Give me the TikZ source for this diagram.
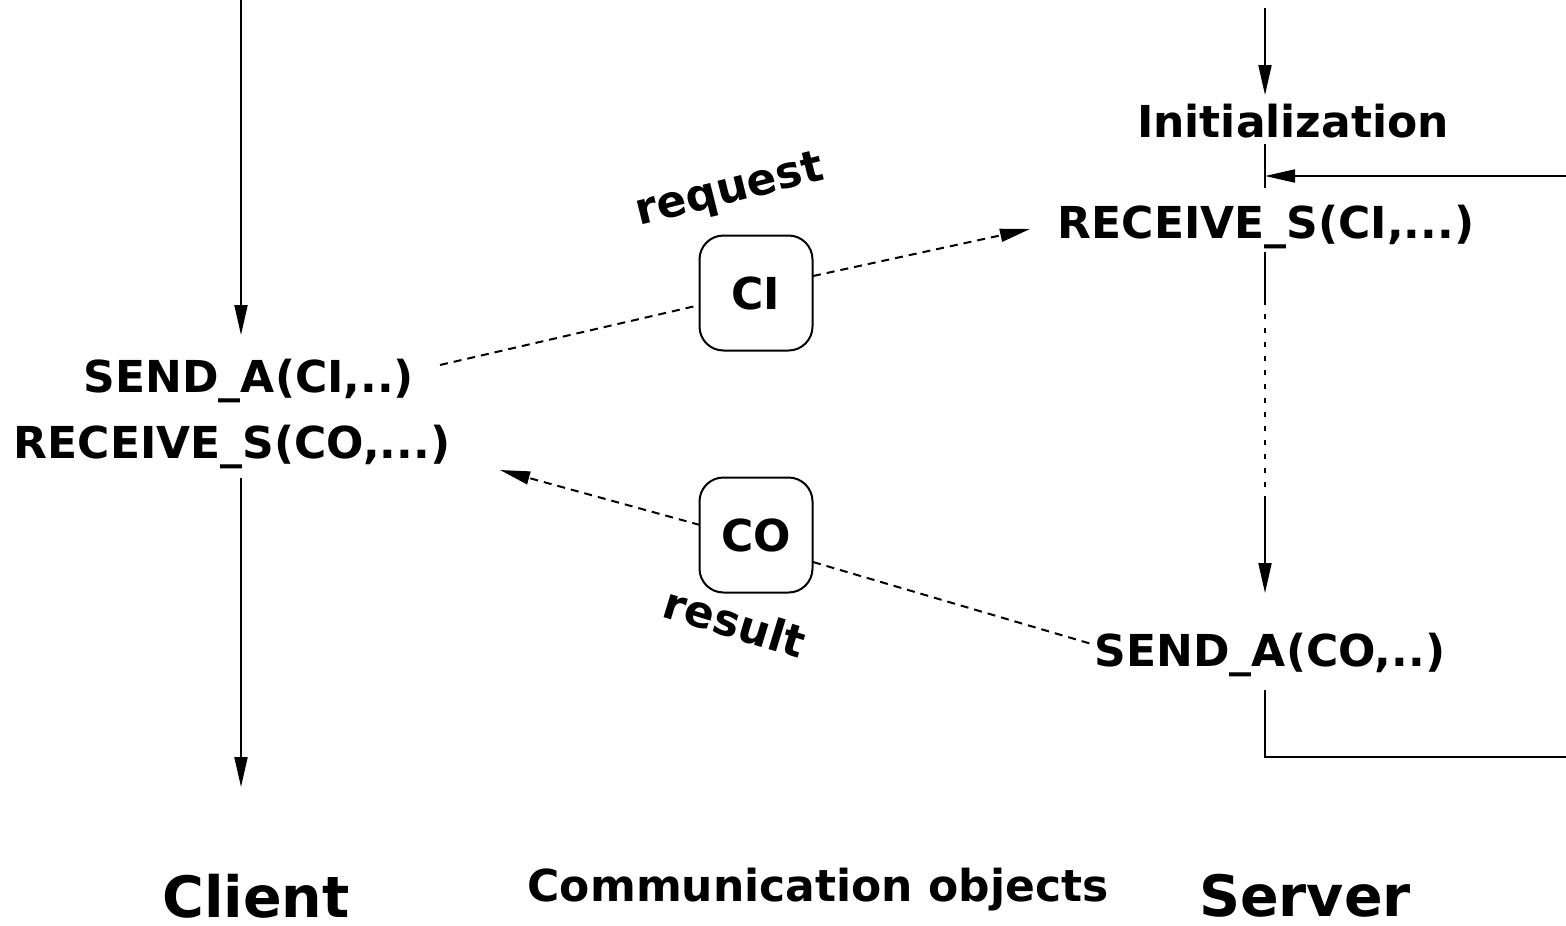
\documentclass[tikz,border=0pt]{standalone}
\usepackage{fontspec}
\setmainfont{DejaVu Sans}
\usetikzlibrary{arrows.meta}
\begin{document}
\begin{tikzpicture}[x=1pt,y=-1pt,
  lbl/.style={font=\fontsize{44}{50}\selectfont\bfseries, inner sep=0pt, anchor=center},
  big/.style={font=\fontsize{57}{64}\selectfont\bfseries, inner sep=0pt, anchor=center},
  obj/.style={draw, line width=2pt, rounded corners=24pt, minimum width=113pt, minimum height=115pt, inner sep=0pt, font=\fontsize{44}{50}\selectfont\bfseries},
  arr/.style={line width=2pt, -{Triangle[length=30pt,width=13pt]}},
  plain/.style={line width=2pt},
  dsh/.style={line width=2pt, dash pattern=on 8pt off 6pt},
  dsharr/.style={dsh, -{Triangle[length=30pt,width=13pt]}},
  dot/.style={line width=2pt, dash pattern=on 5pt off 9pt}]
\useasboundingbox (0,0) rectangle (1566,926);
% client lifeline
\coordinate (ctop) at (241,0);
\coordinate (cA) at (241,335);
\node[lbl] (sendci) at (249,381) {SEND\_A(CI,..)};
\node[lbl] (recvco) at (232,447) {RECEIVE\_S(CO,...)};
\coordinate (cB) at (241,478);
\coordinate (cbot) at (241,787);
\draw[arr] (ctop) -- (cA);
\draw[arr] (cB) -- (cbot);
% server lifeline
\coordinate (stop) at (1265,8);
\coordinate (sA) at (1265,95);
\node[lbl] (init) at (1293,121) {Initialization};
\coordinate (sB) at (1265,144);
\coordinate (sC) at (1265,188);
\coordinate (loopin) at (1566,176);
\coordinate (loopjoin) at (1265,176);
\node[lbl] (recvci) at (1266,227) {RECEIVE\_S(CI,...)};
\coordinate (sD) at (1265,252);
\coordinate (sE) at (1265,300);
\coordinate (sF) at (1265,500);
\coordinate (sG) at (1265,593);
\node[lbl] (sendco) at (1270,655) {SEND\_A(CO,..)};
\coordinate (sH) at (1265,690);
\coordinate (sI) at (1265,757);
\coordinate (loopout) at (1566,757);
\draw[arr] (stop) -- (sA);
\draw[plain] (sB) -- (sC);
\draw[arr] (loopin) -- (loopjoin);
\draw[plain] (sD) -- (sE);
\draw[dot] (sE) -- (sF);
\draw[arr] (sF) -- (sG);
\draw[plain] (sH) -- (sI) -- (loopout);
% communication objects
\node[obj] (CI) at (756,293) {CI};
\node[obj] (CO) at (756,535) {CO};
\node[lbl, rotate=14] (request) at (730,192) {request};
\node[lbl, rotate=-17] (result) at (735,622) {result};
\coordinate (reqstart) at (440,365);
\coordinate (ciL) at (700,305);
\coordinate (ciR) at (813,276);
\coordinate (reqend) at (1030,229);
\coordinate (coL) at (700,525);
\coordinate (resend) at (500,470);
\coordinate (coR) at (813,562);
\coordinate (resstart) at (1095,645);
\draw[dsh] (reqstart) -- (ciL);
\draw[dsharr] (ciR) -- (reqend);
\draw[dsharr] (coL) -- (resend);
\draw[dsh] (coR) -- (resstart);
% captions
\node[big] (client) at (256,896) {Client};
\node[lbl] (commobj) at (818,890) {Communication objects};
\node[big] (server) at (1305,896) {Server};
\end{tikzpicture}
\end{document}
